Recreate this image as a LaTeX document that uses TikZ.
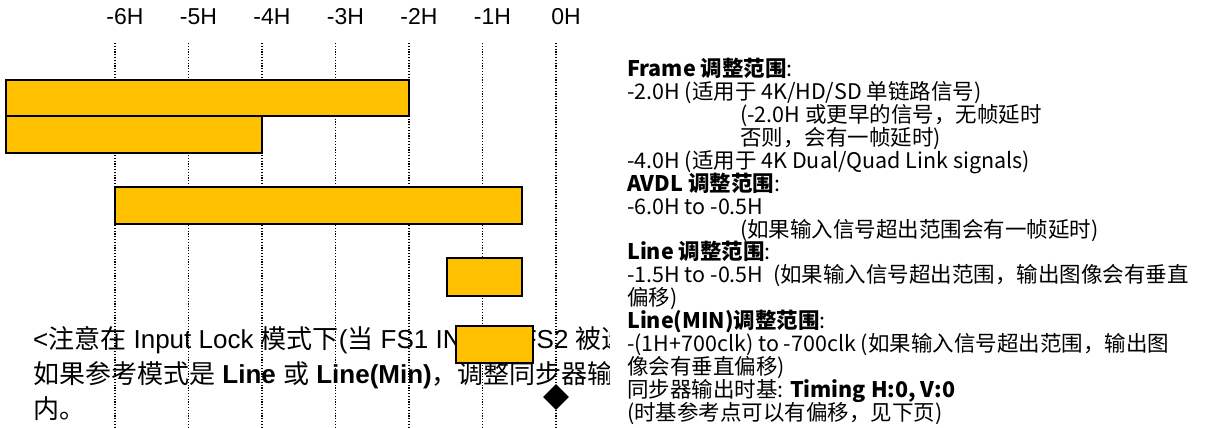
\documentclass[tikz,border=0pt]{standalone}
\usepackage{fontspec}
\setmainfont{Liberation Sans}
\newfontfamily\cjk{Noto Sans CJK SC}
\usetikzlibrary{shapes.geometric}
\definecolor{barfill}{HTML}{FFC000}
\begin{document}
\begin{tikzpicture}[x=1pt,y=-1pt,
  gridline/.style={line width=1.1pt, dash pattern=on 1.2pt off 1.6pt},
  bar/.style={draw=black, line width=1.6pt, fill=barfill, inner sep=0pt, outer sep=0pt, anchor=north west},
  axislbl/.style={font=\fontsize{23}{23}\selectfont, anchor=base, inner sep=0pt},
  ltext/.style={font=\fontsize{26}{26}\selectfont, anchor=base west, inner sep=0pt, text height=19pt, text depth=4pt},
  rtext/.style={font=\cjk\fontsize{21.5}{21.5}\selectfont, anchor=base west, inner sep=0pt, text height=16pt, text depth=4pt}]
\useasboundingbox (0,0) rectangle (1210,428);
% grid and axis labels
\foreach \i/\lab in {0/-6H,1/-5H,2/-4H,3/-3H,4/-2H,5/-1H,6/0H}{
  \coordinate (gt\i) at ({115+73.5*\i},43);
  \coordinate (gb\i) at ({115+73.5*\i},428);
  \draw[gridline] (gt\i) -- (gb\i);
  \node[axislbl] (lab\i) at ({125+73.5*\i},25) {\lab};
}
% left note (clipped at the right)
\begin{scope}
\clip (0,300) rectangle (609,428);
\node[ltext] (note1) at (33,348) {<{\cjk 注意在} Input Lock {\cjk 模式下}({\cjk 当} FS1 INPUT/FS2 {\cjk 被选}};
\node[ltext] (note2) at (33,383) {{\cjk 如果参考模式是} \textbf{Line} {\cjk 或} \textbf{Line(Min)}{\cjk ，调整同步器输}};
\node[ltext] (note3) at (33,418) {{\cjk 内。}};
\end{scope}
% bars
\node[bar, minimum width=403, minimum height=36] (frameA) at (6,80) {};
\node[bar, minimum width=256, minimum height=37] (frameB) at (6,116) {};
\node[bar, minimum width=407, minimum height=37] (avdl) at (115,187) {};
\node[bar, minimum width=75, minimum height=38] (line) at (447,258) {};
\node[bar, minimum width=77, minimum height=37] (linemin) at (456,326) {};
\node[diamond, fill=black, minimum size=26, inner sep=0pt] (ref) at (556,397) {};
% right text
\def\yy#1{77+22.87*#1}
\node[rtext] (r1) at (627,{\yy0}) {\textbf{Frame 调整范围}:};
\node[rtext] (r2) at (627,{\yy1}) {-2.0H (适用于 4K/HD/SD 单链路信号)};
\node[rtext] (r3) at (740,{\yy2}) {(-2.0H 或更早的信号，无帧延时};
\node[rtext] (r4) at (740,{\yy3}) {否则，会有一帧延时)};
\node[rtext] (r5) at (627,{\yy4}) {-4.0H (适用于 4K Dual/Quad Link signals)};
\node[rtext] (r6) at (627,{\yy5}) {\textbf{AVDL 调整范围}:};
\node[rtext] (r7) at (627,{\yy6}) {-6.0H to -0.5H};
\node[rtext] (r8) at (740,{\yy7}) {(如果输入信号超出范围会有一帧延时)};
\node[rtext] (r9) at (627,{\yy8}) {\textbf{Line 调整范围}:};
\node[rtext] (r10) at (627,{\yy9}) {-1.5H to -0.5H\ \ (如果输入信号超出范围，输出图像会有垂直};
\node[rtext] (r11) at (627,{\yy{10}}) {偏移)};
\node[rtext] (r12) at (627,{\yy{11}}) {\textbf{Line(MIN)调整范围}:};
\node[rtext] (r13) at (627,{\yy{12}}) {-(1H+700clk) to -700clk (如果输入信号超出范围，输出图};
\node[rtext] (r14) at (627,{\yy{13}}) {像会有垂直偏移)};
\node[rtext] (r15) at (627,{\yy{14}}) {同步器输出时基: \textbf{Timing H:0, V:0}};
\node[rtext] (r16) at (627,{\yy{15}}) {(时基参考点可以有偏移，见下页)};
\end{tikzpicture}
\end{document}
